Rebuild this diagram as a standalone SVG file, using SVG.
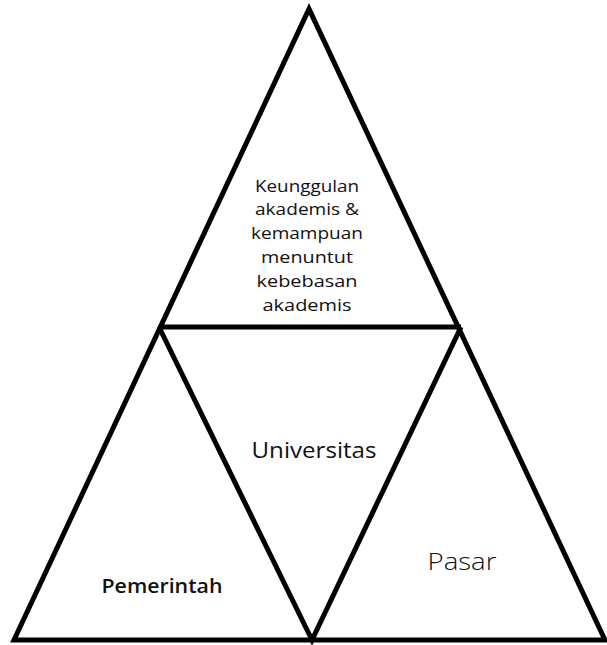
<svg xmlns="http://www.w3.org/2000/svg" width="607" height="645" viewBox="0 0 607 645">
<style>
.ln{stroke:#000;stroke-width:5;fill:none;stroke-linejoin:miter;stroke-linecap:butt}
.t{font-family:"Open Sans","Noto Sans","Liberation Sans",sans-serif;fill:#111;text-anchor:middle}
.s{font-size:16px}
</style>
<rect width="607" height="645" fill="#fff"/>
<g id="connectors">
<path class="ln" d="M14,640 L309,9 L605,640 Z"/>
<path class="ln" d="M159,327 L461,327"/>
<path class="ln" d="M159,327 L312,640 L461,327"/>
</g>
<g id="node-top">
<text class="t s" x="307" y="192" textLength="104" lengthAdjust="spacingAndGlyphs">Keunggulan</text>
<text class="t s" x="307" y="215" textLength="104" lengthAdjust="spacingAndGlyphs">akademis &amp;</text>
<text class="t s" x="307" y="239" textLength="112" lengthAdjust="spacingAndGlyphs">kemampuan</text>
<text class="t s" x="307" y="263" textLength="92" lengthAdjust="spacingAndGlyphs">menuntut</text>
<text class="t s" x="307" y="287" textLength="101" lengthAdjust="spacingAndGlyphs">kebebasan</text>
<text class="t s" x="307" y="311" textLength="89" lengthAdjust="spacingAndGlyphs">akademis</text>
</g>
<g id="node-universitas">
<text class="t" x="314" y="458" font-size="21" textLength="125" lengthAdjust="spacingAndGlyphs">Universitas</text>
</g>
<g id="node-pemerintah">
<text class="t" x="162" y="593" font-size="19" font-weight="600" textLength="121" lengthAdjust="spacingAndGlyphs">Pemerintah</text>
</g>
<g id="node-pasar">
<text class="t" x="462" y="570" font-size="23" font-weight="300" textLength="69" lengthAdjust="spacingAndGlyphs">Pasar</text>
</g>
</svg>
